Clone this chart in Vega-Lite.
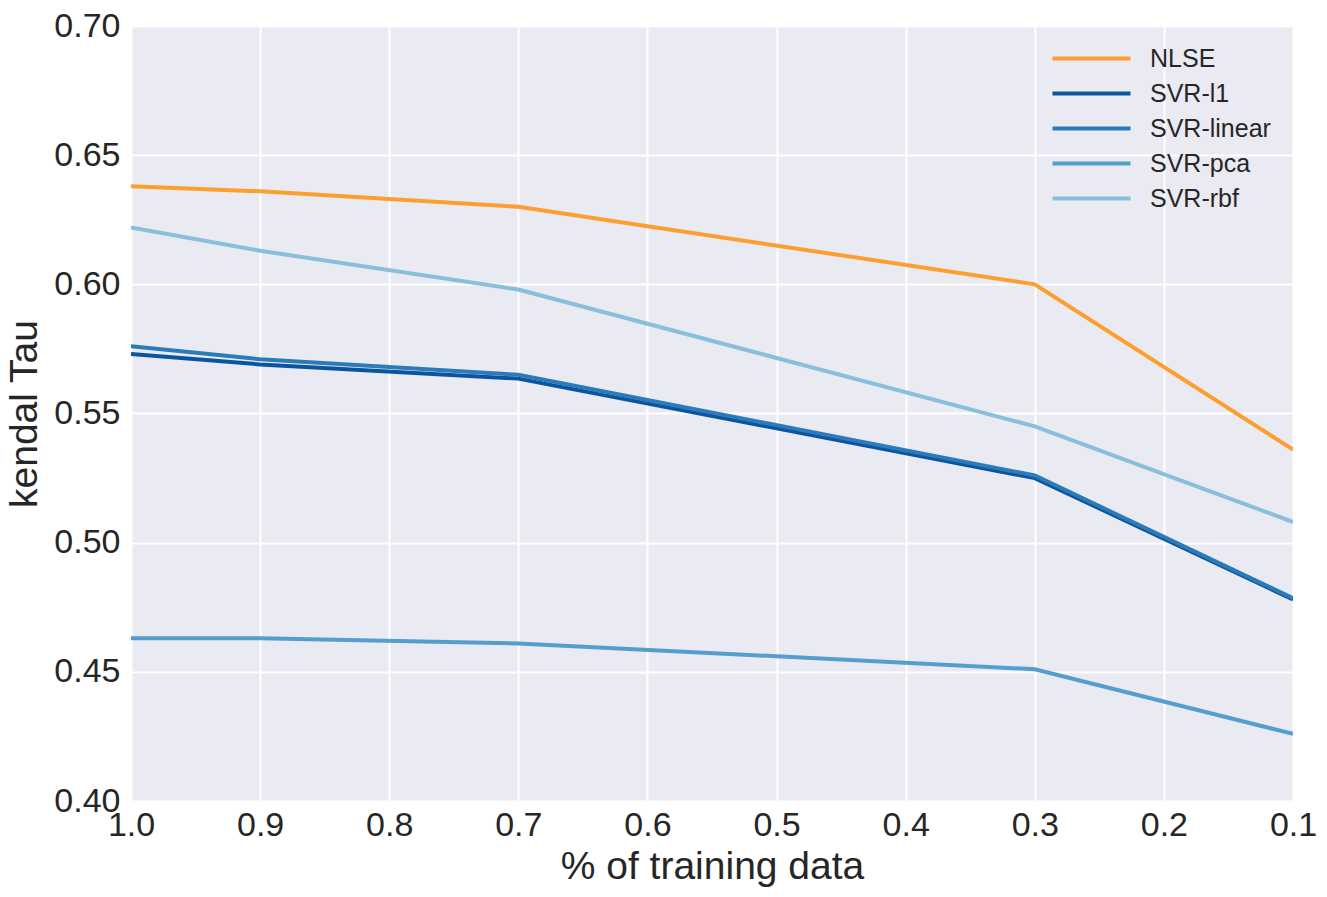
{
  "$schema": "https://vega.github.io/schema/vega-lite/v6.json",
  "width": 1162,
  "height": 775,
  "autosize": "none",
  "padding": {"left": 131, "top": 26, "right": 34, "bottom": 96},
  "background": "white",
  "data": {
    "values": [
      {"frac": 1.0, "model": "NLSE", "tau": 0.638},
      {"frac": 0.9, "model": "NLSE", "tau": 0.636},
      {"frac": 0.7, "model": "NLSE", "tau": 0.630},
      {"frac": 0.3, "model": "NLSE", "tau": 0.600},
      {"frac": 0.1, "model": "NLSE", "tau": 0.536},
      {"frac": 1.0, "model": "SVR-l1", "tau": 0.573},
      {"frac": 0.9, "model": "SVR-l1", "tau": 0.569},
      {"frac": 0.7, "model": "SVR-l1", "tau": 0.5635},
      {"frac": 0.3, "model": "SVR-l1", "tau": 0.525},
      {"frac": 0.1, "model": "SVR-l1", "tau": 0.478},
      {"frac": 1.0, "model": "SVR-linear", "tau": 0.576},
      {"frac": 0.9, "model": "SVR-linear", "tau": 0.571},
      {"frac": 0.7, "model": "SVR-linear", "tau": 0.565},
      {"frac": 0.3, "model": "SVR-linear", "tau": 0.526},
      {"frac": 0.1, "model": "SVR-linear", "tau": 0.4785},
      {"frac": 1.0, "model": "SVR-pca", "tau": 0.463},
      {"frac": 0.9, "model": "SVR-pca", "tau": 0.463},
      {"frac": 0.7, "model": "SVR-pca", "tau": 0.461},
      {"frac": 0.3, "model": "SVR-pca", "tau": 0.451},
      {"frac": 0.1, "model": "SVR-pca", "tau": 0.426},
      {"frac": 1.0, "model": "SVR-rbf", "tau": 0.622},
      {"frac": 0.9, "model": "SVR-rbf", "tau": 0.613},
      {"frac": 0.7, "model": "SVR-rbf", "tau": 0.598},
      {"frac": 0.3, "model": "SVR-rbf", "tau": 0.545},
      {"frac": 0.1, "model": "SVR-rbf", "tau": 0.508}
    ]
  },
  "mark": {"type": "line", "strokeWidth": 4, "clip": true},
  "encoding": {
    "x": {
      "field": "frac",
      "type": "quantitative",
      "title": "% of training data",
      "scale": {"domain": [0.1, 1.0], "reverse": true, "nice": false, "zero": false},
      "axis": {"values": [1.0, 0.9, 0.8, 0.7, 0.6, 0.5, 0.4, 0.3, 0.2, 0.1], "format": ".1f", "labelPadding": 7, "titlePadding": 5}
    },
    "y": {
      "field": "tau",
      "type": "quantitative",
      "title": "kendal Tau",
      "scale": {"domain": [0.4, 0.7], "nice": false, "zero": false},
      "axis": {"values": [0.4, 0.45, 0.5, 0.55, 0.6, 0.65, 0.7], "format": ".2f", "labelPadding": 11, "titlePadding": 9}
    },
    "color": {
      "field": "model",
      "type": "nominal",
      "title": null,
      "scale": {
        "domain": ["NLSE", "SVR-l1", "SVR-linear", "SVR-pca", "SVR-rbf"],
        "range": ["#fd9e2e", "#0b559f", "#2b7bba", "#539ecd", "#89bedc"]
      },
      "legend": {
        "orient": "none",
        "legendX": 939,
        "legendY": 11,
        "symbolType": "M-2,0H2",
        "symbolSize": 1521,
        "symbolStrokeWidth": 4,
        "labelFontSize": 25,
        "labelOffset": 37,
        "rowPadding": 0,
        "labelColor": "#262626",
        "labelFont": "Liberation Sans"
      }
    }
  },
  "config": {
    "view": {"fill": "#EAEAF2", "stroke": null},
    "axis": {
      "grid": true,
      "gridColor": "white",
      "gridWidth": 2,
      "domain": false,
      "ticks": false,
      "labelFont": "Liberation Sans",
      "labelFontSize": 34,
      "labelColor": "#262626",
      "titleFont": "Liberation Sans",
      "titleFontSize": 39,
      "titleFontWeight": "normal",
      "titleColor": "#262626"
    },
    "axisX": {"labelFlush": false},
    "axisY": {"labelFlush": false}
  }
}
